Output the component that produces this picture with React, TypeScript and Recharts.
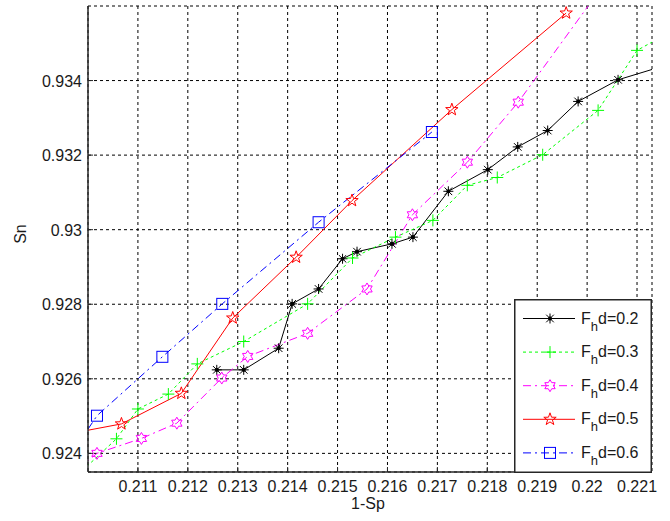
import React from 'react';
import { LineChart, Line, XAxis, YAxis, CartesianGrid, Legend } from 'recharts';

// ---------- data ----------
const xTicks = [0.211, 0.212, 0.213, 0.214, 0.215, 0.216, 0.217, 0.218, 0.219, 0.22, 0.221];
const yTicks = [0.924, 0.926, 0.928, 0.93, 0.932, 0.934];
const xDomain: [number, number] = [0.21, 0.2213];
const yDomain: [number, number] = [0.9235, 0.936];

const seriesLabels = ['0.2', '0.3', '0.4', '0.5', '0.6'];

const blackX = [0.21258, 0.21312, 0.21382, 0.21409, 0.21462, 0.2151, 0.21539, 0.21609, 0.21651, 0.21722, 0.21801, 0.21861, 0.21921, 0.21982, 0.22062, 0.2216];
const blackY = [0.92624, 0.92624, 0.92682, 0.92801, 0.92841, 0.92922, 0.92941, 0.92962, 0.9298, 0.93103, 0.93161, 0.93222, 0.93266, 0.93344, 0.93402, 0.93442];

const greenX = [0.2098, 0.21057, 0.211, 0.21161, 0.21219, 0.21312, 0.2144, 0.2153, 0.21616, 0.21691, 0.2176, 0.2182, 0.21911, 0.22022, 0.221, 0.2216];
const greenY = [0.92343, 0.92439, 0.92519, 0.92559, 0.9264, 0.927, 0.92801, 0.92924, 0.9298, 0.93025, 0.93119, 0.9314, 0.93201, 0.9332, 0.93481, 0.93525];

const magentaX = [0.2098, 0.21018, 0.21107, 0.21178, 0.21268, 0.2132, 0.2144, 0.21559, 0.2165, 0.2176, 0.21862, 0.2202];
const magentaY = [0.92359, 0.924, 0.9244, 0.92481, 0.92602, 0.9266, 0.92722, 0.92841, 0.9304, 0.93181, 0.93342, 0.93633];

const redX = [0.2098, 0.21067, 0.21187, 0.2129, 0.21417, 0.21529, 0.21729, 0.21958];
const redY = [0.92457, 0.92479, 0.92561, 0.92763, 0.92926, 0.93078, 0.93322, 0.93581];

const blueX = [0.2098, 0.21018, 0.21149, 0.21269, 0.21462, 0.21689];
const blueY = [0.92425, 0.92501, 0.92659, 0.92801, 0.9302, 0.93262];

const toPoints = (xs: number[], ys: number[]) => xs.map((x, i) => ({ x, y: ys[i] }));

// ---------- styles ----------
const AXIS = '#262626';
const TEXT = '#1a1a1a';
const FONT = '"Liberation Sans", Arial, Helvetica, sans-serif';

type MarkerKind = 'asterisk' | 'plus' | 'hexagram' | 'pentagram' | 'square';

const series: { label: string; data: { x: number; y: number }[]; color: string; dash?: string; marker: MarkerKind }[] = [
  { label: seriesLabels[0], data: toPoints(blackX, blackY), color: '#000000', marker: 'asterisk' },
  { label: seriesLabels[1], data: toPoints(greenX, greenY), color: '#00ff00', dash: '3 3', marker: 'plus' },
  { label: seriesLabels[2], data: toPoints(magentaX, magentaY), color: '#ff00ff', dash: '8 4 2 4', marker: 'hexagram' },
  { label: seriesLabels[3], data: toPoints(redX, redY), color: '#ff0000', marker: 'pentagram' },
  { label: seriesLabels[4], data: toPoints(blueX, blueY), color: '#0000ff', dash: '8 4 2 4', marker: 'square' },
];

function starPath(cx: number, cy: number, n: number, R: number, r: number) {
  let d = '';
  for (let i = 0; i < 2 * n; i++) {
    const rad = i % 2 === 0 ? R : r;
    const a = -Math.PI / 2 + (i * Math.PI) / n;
    d += (i === 0 ? 'M' : 'L') + (cx + rad * Math.cos(a)).toFixed(2) + ',' + (cy + rad * Math.sin(a)).toFixed(2);
  }
  return d + 'Z';
}

function Marker({ kind, cx, cy, color }: { kind: MarkerKind; cx: number; cy: number; color: string }) {
  switch (kind) {
    case 'asterisk': {
      const r = 5;
      const d = 3.8;
      return (
        <g stroke={color} strokeWidth={1}>
          <line x1={cx - r} y1={cy} x2={cx + r} y2={cy} />
          <line x1={cx} y1={cy - r} x2={cx} y2={cy + r} />
          <line x1={cx - d} y1={cy - d} x2={cx + d} y2={cy + d} />
          <line x1={cx - d} y1={cy + d} x2={cx + d} y2={cy - d} />
          <circle cx={cx} cy={cy} r={1.6} fill={color} />
        </g>
      );
    }
    case 'plus': {
      const r = 6;
      return (
        <g stroke={color} strokeWidth={1}>
          <line x1={cx - r} y1={cy} x2={cx + r} y2={cy} />
          <line x1={cx} y1={cy - r} x2={cx} y2={cy + r} />
        </g>
      );
    }
    case 'hexagram':
      return <path d={starPath(cx, cy, 6, 6, 3.5)} fill="none" stroke={color} strokeWidth={1} />;
    case 'pentagram':
      return <path d={starPath(cx, cy, 5, 6.5, 2.6)} fill="none" stroke={color} strokeWidth={1} />;
    case 'square':
    default:
      return <rect x={cx - 5.5} y={cy - 5.5} width={11} height={11} fill="none" stroke={color} strokeWidth={1} />;
  }
}

const inDomain = (p: any) =>
  p && p.payload && p.payload.x >= xDomain[0] && p.payload.x <= xDomain[1] && p.payload.y >= yDomain[0] && p.payload.y <= yDomain[1];

const makeDot = (kind: MarkerKind, color: string) => (props: any) => {
  const key = `dot-${kind}-${props.index}`;
  if (props.cx == null || props.cy == null || !inDomain(props)) return <g key={key} />;
  return (
    <g key={key}>
      <Marker kind={kind} cx={props.cx} cy={props.cy} color={color} />
    </g>
  );
};

const fmt = (v: number) => String(Number(v.toFixed(3)));

const renderXTick = (props: any) => {
  const { x, y, payload } = props;
  return (
    <g>
      <line x1={x} x2={x} y1={y} y2={y - 5} stroke={AXIS} strokeWidth={1} />
      <text x={x} y={y + 19.5} textAnchor="middle" fontSize={16} fontFamily={FONT} fill={TEXT}>
        {fmt(payload.value)}
      </text>
    </g>
  );
};

const renderTopTick = (props: any) => {
  const { x, y } = props;
  return <line x1={x} x2={x} y1={y} y2={y + 5} stroke={AXIS} strokeWidth={1} />;
};

const renderYTick = (props: any) => {
  const { x, y, payload } = props;
  return (
    <g>
      <line x1={x} x2={x + 5} y1={y} y2={y} stroke={AXIS} strokeWidth={1} />
      <text x={x - 6} y={y + 6} textAnchor="end" fontSize={16} fontFamily={FONT} fill={TEXT}>
        {fmt(payload.value)}
      </text>
    </g>
  );
};

const renderRightTick = (props: any) => {
  const { x, y } = props;
  return <line x1={x} x2={x - 5} y1={y} y2={y} stroke={AXIS} strokeWidth={1} />;
};

const XLabel = (props: any) => {
  const vb = props.viewBox || {};
  const cx = vb.x + vb.width / 2 - 2;
  const y = vb.y + 36.5;
  return (
    <text x={cx} y={y} textAnchor="middle" fontSize={16} fontFamily={FONT} fill={TEXT}>
      1-Sp
    </text>
  );
};

const YLabel = (props: any) => {
  const vb = props.viewBox || {};
  const x = vb.x + 20.5;
  const y = vb.y + vb.height / 2 - 5;
  return (
    <text
      x={x}
      y={y}
      transform={`rotate(-90 ${x} ${y})`}
      textAnchor="middle"
      dominantBaseline="central"
      fontSize={16}
      fontFamily={FONT}
      fill={TEXT}
    >
      Sn
    </text>
  );
};

const LegendBox = () => (
  <svg width={138} height={174} style={{ display: 'block' }}>
    <rect x={0.75} y={0.75} width={136.5} height={172.5} fill="#ffffff" stroke={AXIS} strokeWidth={1.5} />
    {series.map((s, i) => {
      const y = 19.5 + i * 33.6;
      return (
        <g key={s.label}>
          <line x1={9} x2={61} y1={y} y2={y} stroke={s.color} strokeWidth={1} strokeDasharray={s.dash} />
          <Marker kind={s.marker} cx={36} cy={y} color={s.color} />
          <text x={67} y={y + 5} fontSize={16} fontFamily={FONT} fill={TEXT}>
            F
            <tspan dy={7} fontSize={13}>h</tspan>
            <tspan dy={-7}>d={s.label}</tspan>
          </text>
        </g>
      );
    })}
  </svg>
);

export default function App() {
  return (
    <div style={{ position: 'absolute', left: 0, top: 0, width: 670, height: 521, background: '#ffffff' }}>
      <LineChart width={670} height={521} margin={{ top: 6, right: 18, bottom: 0, left: 0 }}>
        <CartesianGrid stroke="#000000" strokeDasharray="3 3" strokeWidth={1} />
        <XAxis
          dataKey="x"
          type="number"
          domain={xDomain}
          ticks={xTicks}
          allowDataOverflow
          interval={0}
          height={49}
          tickSize={0}
          tickMargin={0}
          tickLine={false}
          tick={renderXTick}
          axisLine={{ stroke: AXIS, strokeWidth: 1.5 }}
          label={{ value: '1-Sp', content: XLabel }}
        />
        <XAxis
          xAxisId="top"
          orientation="top"
          dataKey="x"
          type="number"
          domain={xDomain}
          ticks={xTicks}
          allowDataOverflow
          interval={0}
          height={0}
          tickSize={0}
          tickMargin={0}
          tickLine={false}
          tick={renderTopTick}
          axisLine={{ stroke: AXIS, strokeWidth: 1.5 }}
        />
        <YAxis
          type="number"
          domain={yDomain}
          ticks={yTicks}
          allowDataOverflow
          interval={0}
          width={88}
          tickSize={0}
          tickMargin={0}
          tickLine={false}
          tick={renderYTick}
          axisLine={{ stroke: AXIS, strokeWidth: 1.5 }}
          label={{ value: 'Sn', content: YLabel }}
        />
        <YAxis
          yAxisId="right"
          orientation="right"
          type="number"
          domain={yDomain}
          ticks={yTicks}
          allowDataOverflow
          interval={0}
          width={0}
          tickSize={0}
          tickMargin={0}
          tickLine={false}
          tick={renderRightTick}
          axisLine={{ stroke: AXIS, strokeWidth: 1.5 }}
        />
        {series.map((s) => (
          <Line
            key={s.label}
            data={s.data}
            dataKey="y"
            name={`F_hd=${s.label}`}
            type="linear"
            stroke={s.color}
            strokeWidth={1}
            strokeDasharray={s.dash}
            dot={makeDot(s.marker, s.color)}
            activeDot={false}
            isAnimationActive={false}
          />
        ))}
        <Legend
          layout="horizontal"
          verticalAlign="middle"
          align="center"
          content={() => <LegendBox />}
          wrapperStyle={{ position: 'absolute', left: 514, top: 299, width: 138, height: 174 }}
        />
      </LineChart>
    </div>
  );
}
